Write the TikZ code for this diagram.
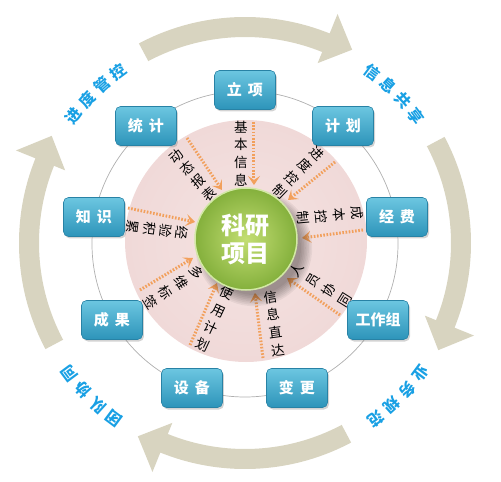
\documentclass[tikz,border=0pt]{standalone}
\usepackage{fontspec}
\setmainfont{Noto Sans CJK SC}
\usetikzlibrary{arrows.meta,calc,shadows}
\definecolor{arrowbeige}{RGB}{216,212,192}
\definecolor{labblue}{RGB}{25,160,228}
\definecolor{dotorange}{RGB}{242,160,92}
\definecolor{boxtop}{RGB}{108,198,224}
\definecolor{boxbot}{RGB}{45,148,186}
\definecolor{boxedge}{RGB}{40,130,165}
\definecolor{pinkin}{RGB}{245,227,226}
\definecolor{pinkout}{RGB}{240,217,216}
\definecolor{greenin}{RGB}{195,222,115}
\definecolor{greenout}{RGB}{132,176,60}
\definecolor{greenrim}{RGB}{210,232,165}
\definecolor{ringgray}{RGB}{175,175,175}
\newcommand\arclab[4]{%
  \foreach \ch [count=\i from 0, evaluate=\i as \a using #2+8.4-5.6*\i] in {#4}{%
    \node[bluelab, rotate=\a-90] (#1-\i) at (\a:#3) {\ch};}}
\begin{document}
\begin{tikzpicture}[x=1pt,y=1pt,
  box/.style={rounded corners=5pt, minimum width=61pt, minimum height=39pt,
    top color=boxtop, bottom color=boxbot, draw=boxedge, line width=0.6pt,
    text=white, font=\bfseries\fontsize{15}{15}\selectfont, inner sep=0pt,
    drop shadow={shadow xshift=1.5pt, shadow yshift=-2pt, opacity=0.35}},
  lab/.style={font=\fontsize{13.5}{#1}\selectfont, inner sep=0pt, text=black, align=center},
  bluelab/.style={font=\bfseries\fontsize{15.5}{15.5}\selectfont, text=labblue, inner sep=0pt},
  dotarrow/.style={draw=dotorange, line width=3pt, dash pattern=on 1.6pt off 1.6pt,
    line cap=butt, -{Stealth[length=9pt,width=12pt,inset=4pt]}},
  hubstyle/.style={circle, minimum size=102pt, inner sep=0pt, inner color=greenin,
    outer color=greenout, draw=greenrim, line width=1.5pt, text=white, align=center,
    font=\bfseries\fontsize{24}{28}\selectfont},
]
\useasboundingbox (-245,-239) rectangle (256,243);

% big circular arrows
\foreach \c in {90,0,-90,180}{
  \fill[arrowbeige] (\c+28:206) arc[start angle=\c+28, end angle=\c-22, radius=206]
    -- (\c-22:194) -- (\c-29:221) -- (\c-22:247) -- (\c-22:226)
    arc[start angle=\c-22, end angle=\c+28, radius=226] -- cycle;
}

% blue labels
\arclab{b1}{135}{213}{进,度,管,控}
\arclab{b2}{45}{213}{信,息,共,享}
\arclab{b3}{-45}{219}{业,务,规,范}
\arclab{b4}{-135}{219}{团,队,协,同}

% thin ring and pink disc
\draw[ringgray, line width=0.7pt] (0,-1) circle[radius=153];
\shade[inner color=pinkin, outer color=pinkout] (1,2) circle[radius=121];

% boxes
\node[box] (lixiang) at (0,153) {立\hspace{0.4em}项};
\node[box] (tongji) at (-99,117) {统\hspace{0.4em}计};
\node[box] (jihua) at (98,117) {计\hspace{0.4em}划};
\node[box] (zhishi) at (-151,26) {知\hspace{0.4em}识};
\node[box] (jingfei) at (152,26) {经\hspace{0.4em}费};
\node[box] (chengguo) at (-133,-77) {成\hspace{0.4em}果};
\node[box] (gongzuozu) at (133,-77) {工作组};
\node[box] (shebei) at (-53,-145) {设\hspace{0.4em}备};
\node[box] (biangeng) at (52,-145) {变\hspace{0.4em}更};

% dotted arrows
\coordinate (o1) at (9,121);   \coordinate (t1) at (9,58);
\coordinate (o2) at (90,81);   \coordinate (t2) at (43,43);
\coordinate (o3) at (118,13);  \coordinate (t3) at (57,5);
\coordinate (o4) at (95,-72);  \coordinate (t4) at (42,-35);
\coordinate (o5) at (18,-115); \coordinate (t5) at (10,-50);
\coordinate (o6) at (-55,-102);\coordinate (t6) at (-28,-40);
\coordinate (o7) at (-105,-47);\coordinate (t7) at (-52,-15);
\coordinate (o8) at (-117,35); \coordinate (t8) at (-50,21);
\coordinate (o9) at (-58,105); \coordinate (t9) at (-23,53);
\foreach \k in {1,...,9}{\draw[dotarrow] (o\k) -- (t\k);}

% arrow labels (vertical text, tilted along the arrows)
\node[lab=17.7, rotate=0]   (L1) at (-4,89.5)    {基\\本\\信\\息};
\node[lab=17.9, rotate=-44] (L2) at (53.5,70.5)  {进\\度\\控\\制};
\node[lab=18,   rotate=-85] (L3) at (85,27.5)    {成\\本\\控\\制};
\node[lab=18.9, rotate=58]  (L4) at (76,-42)     {人\\员\\协\\同};
\node[lab=17.9, rotate=8]   (L5) at (29,-80.5)   {信\\息\\直\\达};
\node[lab=19,   rotate=-25] (L6) at (-30,-76)    {使\\用\\计\\划};
\node[lab=18.4, rotate=-58] (L7) at (-71.5,-44.5){多\\维\\标\\签};
\node[lab=16.5, rotate=-97] (L8) at (-87.5,13)   {经\\验\\积\\累};
\node[lab=16.8, rotate=41]  (L9) at (-52.5,68)   {动\\态\\报\\表};

% hub shadow and hub
\foreach \k in {0,...,7}{\fill[black, opacity=0.05] (9,-5) circle[radius=47+1.6*\k];}
\node[hubstyle] (hub) at (1,4) {科研\\项目};
\end{tikzpicture}
\end{document}
